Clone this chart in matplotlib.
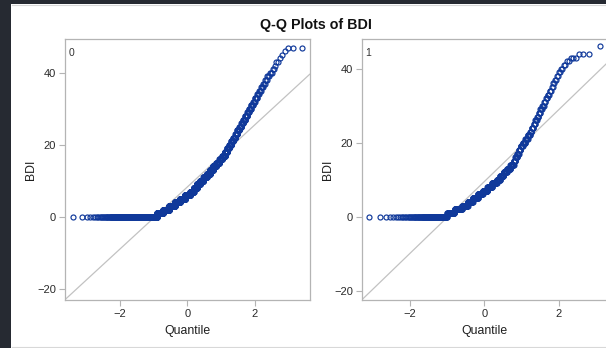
import numpy as np
import matplotlib
matplotlib.use("Agg")
import matplotlib.pyplot as plt
from matplotlib.patches import Rectangle
from statistics import NormalDist

# ---- data: BDI score frequencies ----
bdi_scores_0 = list(range(0, 48))
counts_0 = [350, 97, 110, 117, 112, 116, 116, 74, 72, 70,
            68, 64, 60, 56, 52, 46, 40, 33, 26, 22,
            20, 19, 17, 15, 15, 13, 11, 11, 10, 8,
            8, 7, 6, 6, 5, 4, 4, 3, 3, 3,
            3, 2, 1, 2, 1, 1, 1, 3]

bdi_scores_1 = list(range(0, 47))
counts_1 = [102, 35, 41, 34, 33, 35, 33, 33, 32, 31,
            22, 22, 20, 19, 18, 8, 9, 8, 8, 9,
            10, 9, 8, 5, 6, 4, 5, 4, 4, 4,
            4, 3, 3, 3, 3, 2, 2, 2, 2, 2,
            2, 2, 2, 3, 3, 0, 1]

# normal reference lines (mu, sigma) as drawn
ref_mu = [8.3, 9.5]
ref_sigma = [8.6, 9.7]
panel_labels = ["0", "1"]
xlims = [(-3.64, 3.64), (-3.29, 3.29)]
ylims = [(-23.1, 49.4), (-22.5, 48.0)]
xticks = [-2, 0, 2]
yticks = [-20, 0, 20, 40]

W, H = 606, 348
fig = plt.figure(figsize=(W / 100, H / 100), dpi=100)
fig.patch.set_facecolor("white")

dark = "#262a32"
fig.patches.append(Rectangle((0, 1 - 4 / H), 1, 4 / H, transform=fig.transFigure,
                             facecolor=dark, edgecolor="none", zorder=0))
fig.patches.append(Rectangle((0, 0), 11 / W, 1, transform=fig.transFigure,
                             facecolor=dark, edgecolor="none", zorder=0))
fig.lines.append(plt.Line2D([11.5 / W, 1], [1 - 4.5 / H, 1 - 4.5 / H], transform=fig.transFigure,
                            color="#d8d8d8", lw=0.8))
fig.lines.append(plt.Line2D([11.5 / W, 1], [1.5 / H, 1.5 / H], transform=fig.transFigure,
                            color="#d8d8d8", lw=0.8))

font = ["Liberation Sans", "DejaVu Sans"]
marker_color = "#10399a"
spine_color = "#b4b4b4"

ax_left_px = [65, 362]
ax_w_px = 244.7
ax_top_px, ax_bot_px = 39, 300

nd = NormalDist()
datasets = [(bdi_scores_0, counts_0), (bdi_scores_1, counts_1)]

for i, (scores, counts) in enumerate(datasets):
    ax = fig.add_axes([ax_left_px[i] / W, 1 - ax_bot_px / H, ax_w_px / W,
                       (ax_bot_px - ax_top_px) / H])
    vals = np.sort(np.repeat(scores, counts))
    n = len(vals)
    ranks = np.arange(1, n + 1)
    q = np.array([nd.inv_cdf((r - 0.375) / (n + 0.25)) for r in ranks])
    xl = xlims[i]
    ax.plot(list(xl), [ref_mu[i] + ref_sigma[i] * xl[0], ref_mu[i] + ref_sigma[i] * xl[1]],
            color="#c2c2c2", lw=0.9, zorder=1)
    ax.plot(q, vals, linestyle="none", marker="o", markersize=3.6,
            markerfacecolor="none", markeredgecolor=marker_color, markeredgewidth=0.85, zorder=2)
    ax.set_xlim(*xl)
    ax.set_ylim(*ylims[i])
    ax.set_xticks(xticks)
    ax.set_yticks(yticks)
    for s in ax.spines.values():
        s.set_color(spine_color)
        s.set_linewidth(0.9)
    ax.tick_params(length=4, width=0.8, color=spine_color, pad=2.5,
                   labelsize=8, labelcolor="#2a2a2a")
    for lab in ax.get_xticklabels() + ax.get_yticklabels():
        lab.set_family(font)
    ax.set_xlabel("Quantile", fontsize=8.8, family=font, color="#1e1e1e", labelpad=4.5)
    ax.set_ylabel("BDI", fontsize=8.8, family=font, color="#1e1e1e", labelpad=0)
    ax.text(0.014, 0.965, panel_labels[i], transform=ax.transAxes, fontsize=7.5,
            family=font, color="#333333", ha="left", va="top")

fig.text(315.5 / W, 1 - 25 / H, "Q-Q Plots of BDI", fontsize=10.3, fontweight="bold",
         family=font, color="#111111", ha="center", va="center")

fig.savefig("out.png", dpi=100, facecolor=fig.get_facecolor())
